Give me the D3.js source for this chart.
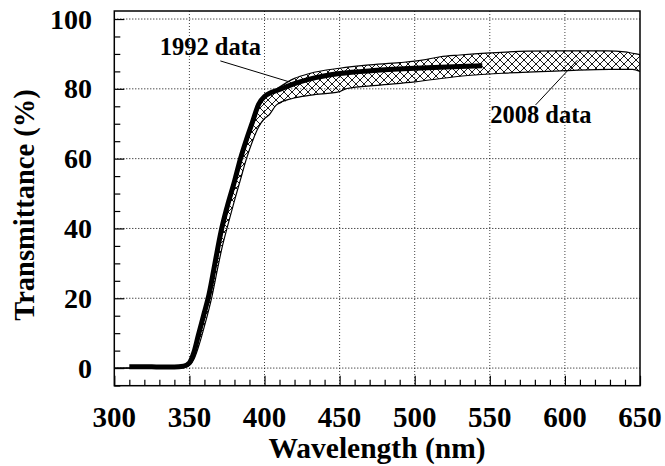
<!DOCTYPE html>
<html>
<head>
<meta charset="utf-8">
<script src="https://cdn.jsdelivr.net/npm/d3@7"></script>
<style>
  html, body { margin: 0; padding: 0; background: #fff; }
  svg { display: block; }
  text { font-family: "Liberation Serif", "Times New Roman", serif; font-weight: bold; fill: #000; }
</style>
</head>
<body>
<svg id="chart" width="665" height="466"></svg>
<script>
// ---- data ----
const data1992Wavelength = [310, 320, 330, 340, 346, 350, 353, 356, 360, 363, 367, 371, 375, 380, 384, 388, 392, 396, 400, 410, 420, 430, 450, 475, 500, 530, 545];
const data1992Transmittance = [0.4, 0.4, 0.3, 0.3, 0.5, 1.5, 4.5, 9.5, 16, 21, 30, 39, 46, 53.5, 60, 65.5, 70.5, 75.5, 77.8, 79.8, 81.5, 82.8, 84.4, 85.3, 85.9, 86.4, 86.6];

const data2008UpperWavelength = [300, 345, 349, 351, 354, 357, 361, 364, 368, 372, 376, 381, 385, 389, 393, 397, 401, 410, 420, 430, 450, 468, 490, 505, 517, 530, 550, 575, 600, 628, 640, 645, 650];
const data2008UpperTransmittance = [0, 0.2, 0.6, 1.5, 4.5, 9.5, 16, 21, 30, 39, 46, 53.5, 60, 65.5, 70.5, 75.5, 77.6, 80.5, 83, 84.4, 85.9, 86.8, 87.5, 88.2, 89.2, 89.7, 90.3, 90.8, 90.9, 90.9, 90.6, 90.2, 89.8];

const data2008LowerWavelength = [300, 345, 350, 353, 356, 360, 365, 369, 372, 375, 380, 384, 388, 392, 396, 400, 403, 408, 419, 431, 450, 455, 475, 500, 530, 560, 600, 630, 645, 650];
const data2008LowerTransmittance = [0, 0.1, 0.8, 2.5, 6, 12, 20.5, 29, 35, 40, 48, 54, 60, 65, 69, 71.5, 72.5, 75.4, 77.3, 78.2, 79.2, 80.1, 81, 82, 83.6, 84.5, 85.2, 85.6, 85.6, 85];

const xTickValues = [300, 350, 400, 450, 500, 550, 600, 650];
const yTickValues = [0, 20, 40, 60, 80, 100];
const xGridValues = [350, 400, 450, 500, 550, 600];
const yGridValues = [0, 20, 40, 60, 80, 100];

const xTitle = "Wavelength (nm)";
const yTitle = "Transmittance (%)";
const label1992 = "1992 data";
const label2008 = "2008 data";
// annotation anchor points in data units [wavelength, transmittance]
const leader1992 = [[370.6, 88], [416.5, 82]];
const leader2008 = [[580.5, 75.4], [608.3, 88.2]];
const label1992Pos = [364, 89.7];
const label2008Pos = [584, 70.2];

// ---- layout ----
const svg = d3.select("#chart");
const x = d3.scaleLinear().domain([300, 650]).range([114.3, 640]);
const y = d3.scaleLinear().domain([-5.05, 102.3]).range([385.7, 11]);

const x0 = x.range()[0], x1 = x.range()[1];
const yB = y.range()[0], yT = y.range()[1];

// hatch pattern
const defs = svg.append("defs");
const pat = defs.append("pattern")
  .attr("id", "hatch").attr("patternUnits", "userSpaceOnUse")
  .attr("width", 8).attr("height", 8);
pat.append("path").attr("d", "M0,0 L8,8 M8,0 L0,8 M-1,7 L1,9 M7,-1 L9,1 M-1,1 L1,-1 M7,9 L9,7")
  .attr("stroke", "#000").attr("stroke-width", 0.9).attr("fill", "none");

defs.append("clipPath").attr("id", "plotclip")
  .append("rect").attr("x", x0).attr("y", yT).attr("width", x1 - x0).attr("height", yB - yT);

// grid
const grid = svg.append("g");
grid.selectAll("line.vg").data(xGridValues).join("line")
  .attr("x1", d => x(d)).attr("x2", d => x(d))
  .attr("y1", yT).attr("y2", yB)
  .attr("stroke", "#444").attr("stroke-width", 1).attr("stroke-dasharray", "1,2");
grid.selectAll("line.hg").data(yGridValues).join("line")
  .attr("x1", x0).attr("x2", x1)
  .attr("y1", d => y(d)).attr("y2", d => y(d))
  .attr("stroke", "#000").attr("stroke-width", 1).attr("stroke-dasharray", "1,2");

// 2008 band
const upper = data2008UpperWavelength.map((w, i) => [w, data2008UpperTransmittance[i]]);
const lower = data2008LowerWavelength.map((w, i) => [w, data2008LowerTransmittance[i]]);
const bandPts = upper.concat(lower.slice().reverse());
const lineGen = d3.line().x(d => x(d[0])).y(d => y(d[1])).curve(d3.curveMonotoneX);
const polyGen = d3.line().x(d => x(d[0])).y(d => y(d[1])).curve(d3.curveLinearClosed);

const plot = svg.append("g").attr("clip-path", "url(#plotclip)");
plot.append("path").attr("d", polyGen(bandPts))
  .attr("fill", "url(#hatch)").attr("stroke", "none");
plot.append("path").attr("d", lineGen(upper)).attr("fill", "none").attr("stroke", "#000").attr("stroke-width", 1.2);
plot.append("path").attr("d", lineGen(lower)).attr("fill", "none").attr("stroke", "#000").attr("stroke-width", 1.2);

// 1992 line
const d1992 = data1992Wavelength.map((w, i) => [w, data1992Transmittance[i]]);
plot.append("path").attr("d", lineGen(d1992))
  .attr("fill", "none").attr("stroke", "#000").attr("stroke-width", 5)
  .attr("stroke-linejoin", "round");

// frame
svg.append("rect").attr("x", x0).attr("y", yT).attr("width", x1 - x0).attr("height", yB - yT)
  .attr("fill", "none").attr("stroke", "#000").attr("stroke-width", 1.5);

// bottom axis ticks (inward), minor every 10 nm
const xAxis = d3.axisBottom(x).tickValues(d3.range(300, 651, 10)).tickSize(-6).tickFormat("");
const gx = svg.append("g").attr("transform", `translate(0,${yB})`).call(xAxis);
gx.select(".domain").remove();
gx.selectAll(".tick line").attr("stroke", "#000").attr("stroke-width", 1.2)
  .attr("y2", d => (d % 50 === 0 ? -10 : -6));

// left axis ticks (inward), minor every 5
const yAxis = d3.axisLeft(y).tickValues(d3.range(-5, 101, 5)).tickSize(-6).tickFormat("");
const gy = svg.append("g").attr("transform", `translate(${x0},0)`).call(yAxis);
gy.select(".domain").remove();
gy.selectAll(".tick line").attr("stroke", "#000").attr("stroke-width", 1.2)
  .attr("x2", d => (d % 20 === 0 ? 10 : 6));

// tick labels
svg.append("g").selectAll("text").data(xTickValues).join("text")
  .attr("x", d => x(d)).attr("y", 427)
  .attr("text-anchor", "middle").attr("font-size", 29)
  .text(d => d);
svg.append("g").selectAll("text").data(yTickValues).join("text")
  .attr("x", 92).attr("y", d => y(d) + 9.5)
  .attr("text-anchor", "end").attr("font-size", 28)
  .text(d => d);

// axis titles
svg.append("text").attr("x", 377).attr("y", 458).attr("text-anchor", "middle")
  .attr("font-size", 29.5).text(xTitle);
svg.append("text").attr("transform", "translate(34,205) rotate(-90)")
  .attr("text-anchor", "middle").attr("font-size", 28.5).text(yTitle);

// annotations
svg.append("line")
  .attr("x1", x(leader1992[0][0])).attr("y1", y(leader1992[0][1]))
  .attr("x2", x(leader1992[1][0])).attr("y2", y(leader1992[1][1]))
  .attr("stroke", "#000").attr("stroke-width", 1);
svg.append("line")
  .attr("x1", x(leader2008[0][0])).attr("y1", y(leader2008[0][1]))
  .attr("x2", x(leader2008[1][0])).attr("y2", y(leader2008[1][1]))
  .attr("stroke", "#000").attr("stroke-width", 1);
svg.append("text").attr("x", x(label1992Pos[0])).attr("y", y(label1992Pos[1]))
  .attr("text-anchor", "middle").attr("font-size", 24.5).text(label1992);
svg.append("text").attr("x", x(label2008Pos[0])).attr("y", y(label2008Pos[1]))
  .attr("text-anchor", "middle").attr("font-size", 24.5).text(label2008);
</script>
</body>
</html>
